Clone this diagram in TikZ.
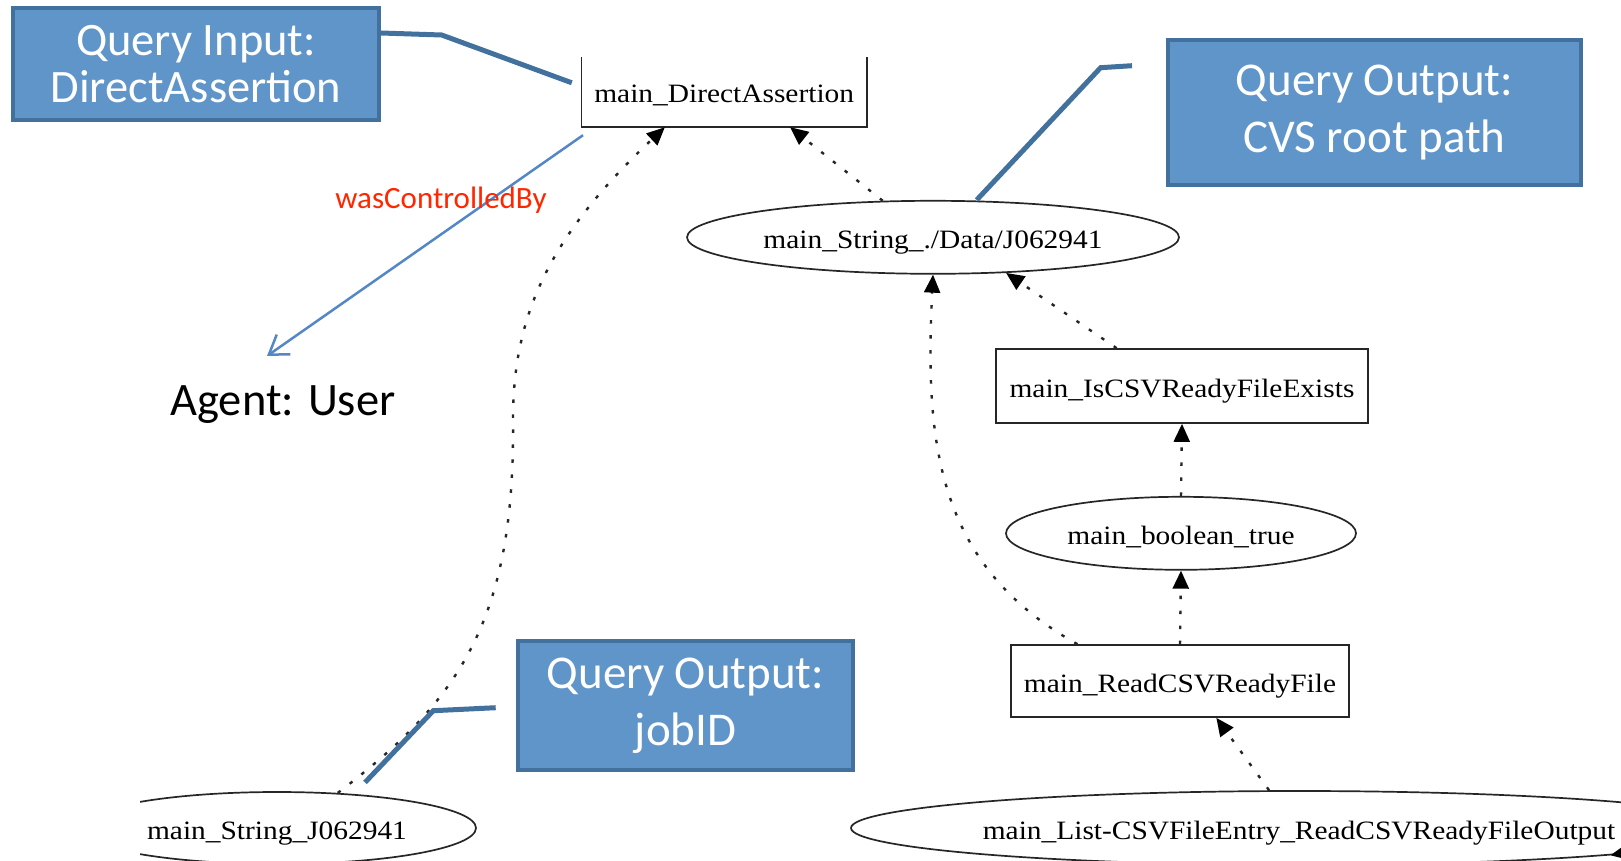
\documentclass[tikz,border=0pt]{standalone}
\usepackage{fontspec}
\setmainfont{Liberation Serif}[FakeStretch=1.11]
\newfontfamily\calfont{Carlito}
\usetikzlibrary{arrows.meta,calc,shapes.geometric}
\definecolor{cofill}{RGB}{96,149,201}
\definecolor{coedge}{RGB}{66,113,158}
\definecolor{arrblue}{RGB}{84,135,198}
\definecolor{lblred}{RGB}{255,38,0}
\tikzset{
  callout/.style={draw=coedge, line width=4pt, fill=cofill, text=white, align=center, inner sep=0pt},
  leader/.style={draw=coedge, line width=5pt},
  gtext/.style={font=\fontsize{26.5}{30}\selectfont, text height=26pt, text depth=3pt, inner sep=0pt},
  gbox/.style={gtext, rectangle, draw=black!85, line width=1.7pt, fill=white},
  gell/.style={gtext, ellipse, draw=black!85, line width=1.7pt, fill=white},
  dep/.style={draw=black!85, line width=2.4pt, dash pattern=on 3.5pt off 11.5pt,
              -{Triangle[length=18pt,width=16pt,color=black]}},
}
\begin{document}
\begin{tikzpicture}[x=1pt,y=-1pt]
\useasboundingbox (0,0) rectangle (1621,861);
\clip (0,0) rectangle (1621,861);

% graph nodes
\node[gtext, rectangle, minimum width=285pt, minimum height=72pt] (da) at (724.2,91) {main\_DirectAssertion};
\draw[black!85, line width=1.7pt] ($(da.north west)+(0,2)$) -- (da.south west) -- (da.south east) -- ($(da.north east)+(0,2)$);
\node[gell, minimum width=492pt, minimum height=73pt] (s1) at (933,237.3) {main\_String\_./Data/J062941};
\node[gbox, minimum width=372pt, minimum height=74pt] (isx) at (1182,386) {main\_IsCSVReadyFileExists};
\node[gell, minimum width=350pt, minimum height=73pt] (bt) at (1181,533.3) {main\_boolean\_true};
\node[gbox, minimum width=338pt, minimum height=72pt] (rd) at (1180,681) {main\_ReadCSVReadyFile};
\node[gell, minimum width=896pt, minimum height=74pt] (ls) at (1299,828) {main\_List-CSVFileEntry\_ReadCSVReadyFileOutput};
\begin{scope}
  \clip (140,740) rectangle (700,861);
  \node[gell, minimum width=398pt, minimum height=72pt] (jb) at (277,828) {main\_String\_J062941};
\end{scope}
\coordinate (offr) at (1660,846);

% dependency edges
\draw[dep] (s1.144) -- ($(da.south west)!0.731!(da.south east)$);
\draw[dep] ($(isx.north west)!0.325!(isx.north east)$) -- (s1.-26.6);
\draw[dep] (bt.north) -- (isx.south);
\draw[dep] (rd.north) -- (bt.south);
\draw[dep] ($(rd.north west)!0.198!(rd.north east)$) .. controls (935,565) and (925,440) .. (s1.south);
\draw[dep] ($(ls.north)+(-30,0)$) -- ($(rd.south west)!0.607!(rd.south east)$);
\draw[dep] (offr) -- (ls.-5.85);
\draw[dep] (jb.30.7) .. controls (460,700) and (515,620) .. (513,420)
                     .. controls (513,320) and (545,240) .. ($(da.south west)!0.292!(da.south east)$);

% wasControlledBy
\coordinate (agtip) at (267,356);
\draw[arrblue, line width=2.5pt, -{Straight Barb[length=18pt,width=24pt,line width=2.5pt]}] ($(da.south west)+(1.5,8)$) -- (agtip);
\node[font=\calfont\fontsize{31}{34}\selectfont, text=lblred, anchor=base, inner sep=0pt] (lbl) at (441,208) {wasControlledBy};
\node[font=\calfont\fontsize{46.5}{50}\selectfont, text=black, anchor=base, inner sep=0pt] (agent) at (283,415) {Agent: User};

% callouts
\node[callout, minimum width=366pt, minimum height=112pt, font=\calfont\fontsize{46.5}{47}\selectfont] (qin) at (196,64.5) {Query Input:\\DirectAssertion};
\draw[leader] ($(qin.north east)+(0,26.5)$) -- (441.7,35) -- ($(da.north west)+(-9.7,28)$);

\node[callout, minimum width=413pt, minimum height=145pt, font=\calfont\fontsize{47}{57}\selectfont] (cvs) at (1374.5,112.5) {Query Output:\\CVS root path};
\draw[leader] ($(cvs.north west)+(-34,27.7)$) -- (1100.6,67.7) -- ($(s1.north)+(43.7,0)$);

\node[callout, minimum width=335pt, minimum height=129pt, font=\calfont\fontsize{47}{57}\selectfont] (job) at (685.5,705.5) {Query Output:\\jobID};
\draw[leader] ($(job.west)+(-20.3,2.2)$) -- (433.3,710.7) -- ($(jb.north)+(88,-8.7)$);
\end{tikzpicture}
\end{document}
